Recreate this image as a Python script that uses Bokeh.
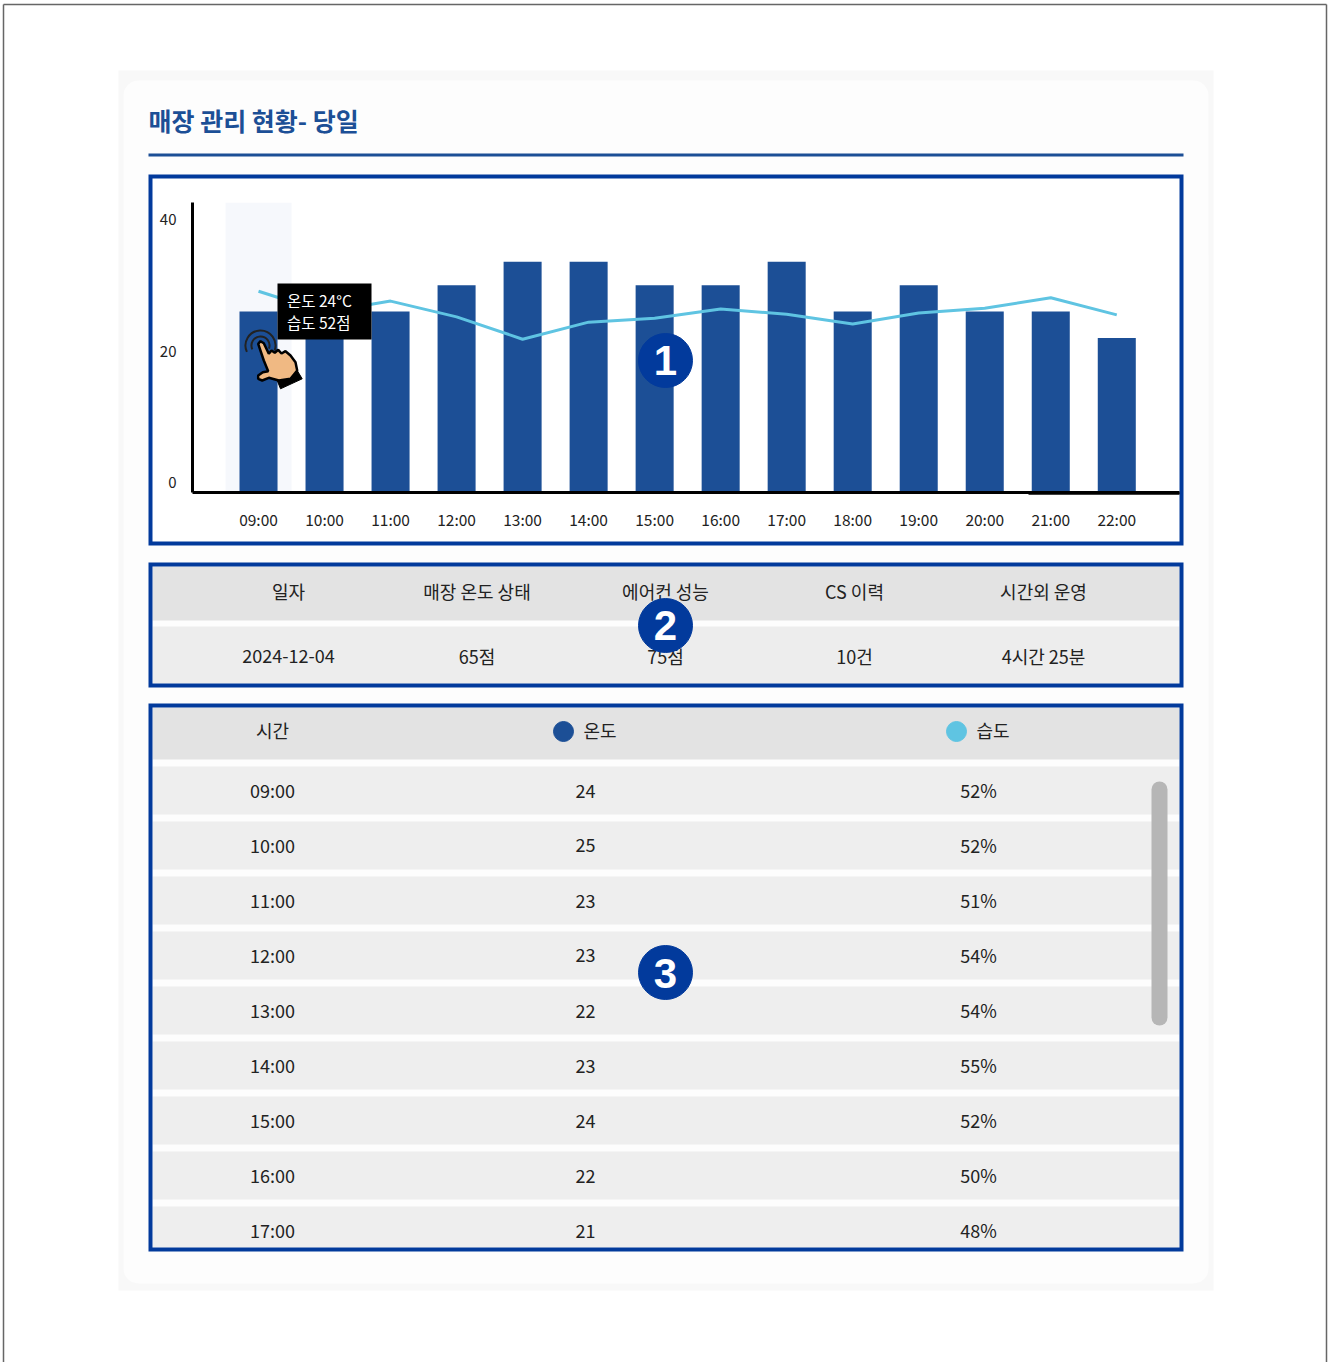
from bokeh.core.properties import value
from bokeh.embed import file_html
from bokeh.models import FixedTicker, Range1d
from bokeh.plotting import figure
from bokeh.resources import INLINE

# Chart data
hours = ["09:00", "10:00", "11:00", "12:00", "13:00", "14:00", "15:00",
         "16:00", "17:00", "18:00", "19:00", "20:00", "21:00", "22:00"]
bar_values = [26, 26, 26, 30, 33.6, 33.6, 30, 30, 33.6, 26, 30, 26, 26, 22]
line_values = [29.1, 25.9, 27.6, 25.2, 21.8, 24.4, 25.0, 26.4, 25.6, 24.1, 25.8, 26.5, 28.1, 25.5]
y_ticks = [0, 20, 40]
selected_hour = 0

# Summary table
summary_head = ["일자", "매장 온도 상태", "에어컨 성능", "CS 이력", "시간외 운영"]
summary_row = ["2024-12-04", "65점", "75점", "10건", "4시간 25분"]

# Hourly table
table_hours = ["09:00", "10:00", "11:00", "12:00", "13:00", "14:00", "15:00", "16:00", "17:00"]
table_temp = ["24", "25", "23", "23", "22", "23", "24", "22", "21"]
table_hum = ["52%", "52%", "51%", "54%", "54%", "55%", "52%", "50%", "48%"]

title = "매장 관리 현황- 당일"
tip_lines = ["온도 24°C", "습도 52점"]

KR = value("Noto Sans CJK KR")
NAVY = "#1c4f96"
SKY = "#5fc4e2"
FRAME = "#023a9c"
INK = "#222222"
W, H = 1329, 1362
AXIS_FLOOR = -1.52
AXIS_TOP = 42.6

# Page layer: one unit is one screen pixel
page = figure(width=W, height=H, x_range=Range1d(0, W), y_range=Range1d(H, 0),
              x_axis_type=None, y_axis_type=None, output_backend="svg", toolbar_location=None,
              min_border=0, outline_line_color=None, background_fill_color="white",
              border_fill_color="white")
page.grid.visible = False


def box(l, r, t, b, color, **kw):
    page.quad(left=[l], right=[r], top=[t], bottom=[b], fill_color=color, line_color=None, **kw)


def label(xs, ys, texts, size="18px", color=INK, align="center", style="normal", font=KR):
    page.text(x=xs, y=ys, text=texts, text_font=font, text_font_size=size, text_color=color,
              text_align=align, text_baseline="middle", text_font_style=style)


# Sheet edge and card
page.segment(x0=[3, 3, 1326], y0=[4, 4, 4], x1=[1326, 3, 1326], y1=[4, 1362, 1362],
             line_color="#666666", line_width=1.5)
box(118, 1213, 70, 1290, "#f8f8f8")
box(123, 1208, 80, 1283, "#fdfdfd", border_radius=15)

label([148], [119.5], [title], size="25px", color=NAVY, align="left", style="bold")
box(148, 1183, 153, 156, NAVY)

# Chart panel
box(150, 1181, 176, 543, "white")

# Summary panel
box(152, 1179, 566, 620, "#e3e3e3")
box(152, 1179, 626, 683, "#ededed")
summary_x = [288, 476.5, 665, 854, 1043]
label(summary_x, [590.5] * 5, summary_head)
label(summary_x, [655.5] * 5, summary_row)

# Hourly panel
box(152, 1179, 707, 759, "#e3e3e3")
row_top = [766 + 55 * i for i in range(len(table_hours))]
page.quad(left=152, right=1179, top=row_top, bottom=[min(t + 48, 1247) for t in row_top],
          fill_color="#eeeeee", line_color=None)
text_y = [789.5, 844, 899.5, 954, 1009.5, 1064.5, 1119.5, 1174.5, 1229.5]
label([272], [729.5], ["시간"])
page.scatter(x=[563], y=[731], size=20, color=NAVY)
page.scatter(x=[956], y=[731], size=20, color=SKY)
label([599.5, 992.5], [729.5, 729.5], ["온도", "습도"])
label([272] * 9, text_y, table_hours)
label([585] * 9, [y + 0.5 for y in text_y], table_temp)
label([978] * 9, text_y, table_hum)
box(1151, 1167, 781, 1025, "#b6b6b6", border_radius=8)

# Panel frames
for t, b in [(176, 543), (564, 685), (705, 1249)]:
    page.quad(left=[150], right=[1181], top=[t], bottom=[b], fill_color=None,
              line_color=FRAME, line_width=4, line_join="miter")

# Step in the baseline under the last two hours
page.segment(x0=[1028], y0=[493], x1=[1179], y1=[493], line_color="black", line_width=2.5)

# Numbered markers for the lower panels
badge_font = value("Liberation Sans")
page.scatter(x=[665, 665], y=[625, 972], size=54, color=FRAME)
label([665, 665], [625, 972.5], ["2", "3"], size="42px", color="white", style="bold", font=badge_font)

# Chart layer: real axes, transparent over the page
chart = figure(width=1035, height=380, x_range=Range1d(-1, 13.95), y_range=Range1d(AXIS_FLOOR, AXIS_TOP),
               output_backend="svg", toolbar_location=None, min_border_left=44, min_border_right=4,
               min_border_top=24, min_border_bottom=66, outline_line_color=None,
               background_fill_color=None, border_fill_color=None,
               margin=(178 - H, 0, 0, 148))
chart.grid.visible = False
positions = list(range(len(hours)))

chart.vbar(x=[selected_hour], width=1.0, bottom=AXIS_FLOOR, top=AXIS_TOP, fill_color="#f6f8fc", line_color=None)
chart.vbar(x=positions, width=0.576, bottom=AXIS_FLOOR, top=bar_values, fill_color=NAVY, line_color=None)
chart.line(x=positions, y=line_values, line_color=SKY, line_width=3)

xa = chart.xaxis[0]
xa.ticker = FixedTicker(ticks=positions)
xa.major_label_overrides = dict(zip(positions, hours))
ya = chart.yaxis[0]
ya.ticker = FixedTicker(ticks=y_ticks)
for ax, standoff in ((xa, 9), (ya, 10)):
    ax.major_tick_line_color = None
    ax.minor_tick_line_color = None
    ax.axis_line_color = "black"
    ax.axis_line_width = 3
    ax.major_label_standoff = standoff
    ax.major_label_text_font = "Noto Sans CJK KR"
    ax.major_label_text_font_size = "15.5px"
    ax.major_label_text_color = INK
ya.major_label_text_font_size = "15px"

# Pixel-scale ranges for the callout drawn on top of the bars
chart.extra_x_ranges = {"px": Range1d(192, 1179)}
chart.extra_y_ranges = {"px": Range1d(492, 202)}
px = dict(x_range_name="px", y_range_name="px")

chart.quad(left=[277], right=[371], top=[283], bottom=[339], fill_color="black", line_color=None, **px)
chart.text(x=[286.5, 286.5], y=[299.5, 321], text=tip_lines, text_font=KR, text_font_size="15.5px",
           text_color="white", text_align="left", text_baseline="middle", **px)

# Pointing hand
chart.patch(x=[296.7, 301.7, 280, 276.7], y=[370, 378.3, 388.3, 380], color="black", **px)
chart.arc(x=[260, 260], y=[345, 345], radius=[9, 15], start_angle=-20, end_angle=205,
          start_angle_units="deg", end_angle_units="deg", line_color="#222222", line_width=2, **px)
chart.patch(x=[257.7, 260, 263.3, 268.3, 271, 274.3, 277.7, 281, 285, 290, 295, 296.7, 290, 278.3,
               268.3, 261.7, 257.7, 257.7, 262.3, 267.7, 263.3],
            y=[343.3, 340.7, 342.7, 353.3, 350, 352.3, 349.3, 353, 350.7, 355, 361.7, 370, 378.3, 380,
               377.3, 380, 378.3, 375, 371.7, 370.7, 360],
            fill_color="#f0b983", line_color="black", line_width=2.5, **px)

# Numbered marker for the chart panel
chart.scatter(x=[665], y=[360], size=54, color=FRAME, **px)
chart.text(x=[665], y=[360], text=["1"], text_font=badge_font, text_font_size="42px",
           text_font_style="bold", text_color="white", text_align="center", text_baseline="middle", **px)

open("out.html", "w").write(file_html([page, chart], INLINE))
